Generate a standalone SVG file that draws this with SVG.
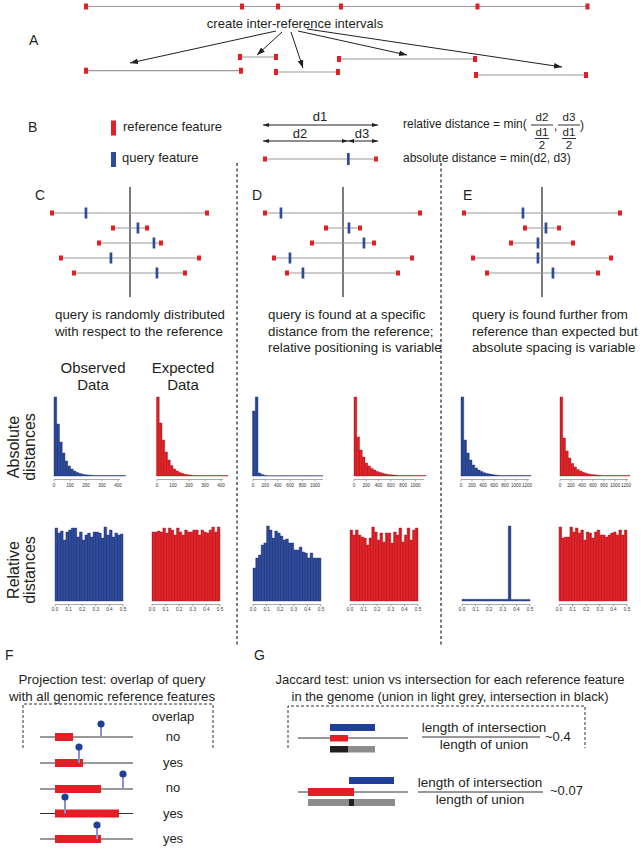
<svg xmlns="http://www.w3.org/2000/svg" width="641" height="849" viewBox="0 0 641 849">
<style>
text{font-family:"Liberation Sans",Arial,sans-serif;fill:#231f20}
.ref{fill:#e31e24}
.qry{fill:#2b4c9b}
.gl{stroke:#9a9a9a;stroke-width:1.2;fill:none}
.vl{stroke:#333;stroke-width:1.3;fill:none}
.ar{stroke:#231f20;stroke-width:1;fill:none}
.ax{stroke:#555;stroke-width:0.5;fill:none}
.tk{font-size:4.6px;text-anchor:middle;fill:#333}
.hb{fill:url(#pb);stroke:#1c2f6b;stroke-width:0.4}
.hr{fill:url(#pr);stroke:#a0151a;stroke-width:0.4}
.dash{stroke:#333;stroke-width:1.3;fill:none;stroke-dasharray:3 2.5}
.dbox{stroke:#333;stroke-width:1;fill:none;stroke-dasharray:3 2}
.pl{stroke:#333;stroke-width:1;fill:none}
.stem{stroke:#8c8fd1;stroke-width:2}
.pin{fill:#203f98}
.lbl{font-size:14px}
.cap{font-size:13.3px}
.fr{font-size:11.5px;text-anchor:middle}
</style>
<defs>
<marker id="ah" viewBox="0 0 10 10" refX="10" refY="5" markerWidth="8" markerHeight="8" markerUnits="userSpaceOnUse" orient="auto-start-reverse"><path d="M0,1.5 L10,5 L0,8.5 Z" fill="#231f20"/></marker>
<marker id="ahs" viewBox="0 0 10 10" refX="10" refY="5" markerWidth="6" markerHeight="6" markerUnits="userSpaceOnUse" orient="auto-start-reverse"><path d="M0,1.5 L10,5 L0,8.5 Z" fill="#231f20"/></marker>
<pattern id="pb" width="2.72" height="10" patternUnits="userSpaceOnUse"><rect width="2.72" height="10" fill="#2f4c9c"/><rect width="0.5" height="10" fill="#1c2f6b"/></pattern>
<pattern id="pr" width="2.72" height="10" patternUnits="userSpaceOnUse"><rect width="2.72" height="10" fill="#e3232a"/><rect width="0.5" height="10" fill="#a0151a"/></pattern>
</defs>
<rect width="641" height="849" fill="#fff"/>

<!-- Panel A -->
<g id="panelA">
<text x="29" y="45" class="lbl">A</text>
<path class="gl" d="M86,6.5 H588"/>
<g class="ref">
<rect x="84" y="3.5" width="4" height="6"/><rect x="240" y="3.5" width="4" height="6"/><rect x="276" y="3.5" width="4" height="6"/><rect x="339" y="3.5" width="4" height="6"/><rect x="475.5" y="3.5" width="4" height="6"/><rect x="585.5" y="3.5" width="4" height="6"/>
</g>
<text x="295" y="28" font-size="13" text-anchor="middle">create inter-reference intervals</text>
<g id="intervals">
<path class="gl" d="M86,70.7 H241 M240,57 H276 M276,72 H338 M339,59 H475 M476,75 H586"/>
<g class="ref">
<rect x="84" y="67.7" width="4" height="6"/><rect x="239" y="67.7" width="4" height="6"/>
<rect x="238" y="54" width="4" height="6"/><rect x="274" y="54" width="4" height="6"/>
<rect x="274" y="69" width="4" height="6"/><rect x="336" y="69" width="4" height="6"/>
<rect x="337" y="56" width="4" height="6"/><rect x="473" y="56" width="4" height="6"/>
<rect x="474" y="72" width="4" height="6"/><rect x="584" y="72" width="4" height="6"/>
</g>
</g>
</g>
<g id="connectorsA">
<path class="ar" marker-end="url(#ah)" d="M276,31 L130,63"/>
<path class="ar" marker-end="url(#ah)" d="M282,32 L257,55"/>
<path class="ar" marker-end="url(#ah)" d="M291,32 L303,68"/>
<path class="ar" marker-end="url(#ah)" d="M298,31 L407,55"/>
<path class="ar" marker-end="url(#ah)" d="M307,29 L562,67"/>
</g>

<!-- Panel B -->
<g id="panelB">
<text x="28" y="132" class="lbl">B</text>
<rect class="ref" x="111" y="120.5" width="5" height="15"/>
<text x="123" y="131" font-size="13">reference feature</text>
<rect class="qry" x="111" y="152" width="5" height="15"/>
<text x="122" y="162" font-size="13">query feature</text>
<g id="distArrows">
<path class="ar" marker-start="url(#ahs)" marker-end="url(#ahs)" d="M263,125 H378"/>
<path class="ar" marker-start="url(#ahs)" marker-end="url(#ahs)" d="M263,141 H348"/>
<path class="ar" marker-start="url(#ahs)" marker-end="url(#ahs)" d="M348,141 H378"/>
</g>
<text x="320" y="121" font-size="13" text-anchor="middle">d1</text>
<text x="300" y="138" font-size="13" text-anchor="middle">d2</text>
<text x="362" y="138" font-size="13" text-anchor="middle">d3</text>
<path class="gl" d="M264,159 H377"/>
<rect class="ref" x="263" y="156.5" width="4" height="5"/>
<rect class="ref" x="374" y="156.5" width="4" height="5"/>
<rect class="qry" x="347" y="153" width="2.7" height="12"/>
<text x="403" y="128" font-size="12">relative distance = min(</text>
<text x="542" y="121" class="fr">d2</text>
<path class="pl" d="M531,125 H553"/>
<text x="542" y="135.5" class="fr">d1</text>
<path class="pl" stroke-width="0.8" d="M535,138.5 H549"/>
<text x="542" y="148.5" class="fr">2</text>
<text x="554" y="130" font-size="12">,</text>
<text x="569" y="121" class="fr">d3</text>
<path class="pl" d="M558,125 H580"/>
<text x="569" y="135.5" class="fr">d1</text>
<path class="pl" stroke-width="0.8" d="M562,138.5 H576"/>
<text x="569" y="148.5" class="fr">2</text>
<text x="580" y="129" font-size="12">)</text>
<text x="403" y="162" font-size="12">absolute distance = min(d2, d3)</text>
</g>

<!-- separators -->
<g id="separators">
<path class="dash" d="M237,163 V647 M441,163 V647"/>
</g>

<!-- Panel C -->
<g id="panelC">
<text x="35" y="200" class="lbl">C</text>
<path class="vl" d="M130,187 V297"/>
<path class="gl" d="M52,213 H207 M113,228 H147 M99,243 H161 M61,258 H199 M74,273 H185"/>
<g class="ref">
<rect x="50" y="210.5" width="4" height="5"/><rect x="205" y="210.5" width="4" height="5"/>
<rect x="111" y="225.5" width="4" height="5"/><rect x="145" y="225.5" width="4" height="5"/>
<rect x="97" y="240.5" width="4" height="5"/><rect x="159" y="240.5" width="4" height="5"/>
<rect x="59" y="255.5" width="4" height="5"/><rect x="197" y="255.5" width="4" height="5"/>
<rect x="72" y="270.5" width="4" height="5"/><rect x="183" y="270.5" width="4" height="5"/>
</g>
<g class="qry">
<rect x="84.6" y="207.5" width="2.7" height="11"/>
<rect x="136.6" y="222.5" width="2.7" height="11"/>
<rect x="152.6" y="237.5" width="2.7" height="11"/>
<rect x="109.6" y="252.5" width="2.7" height="11"/>
<rect x="155.6" y="267.5" width="2.7" height="11"/>
</g>
<text x="55" y="319" class="cap">query is randomly distributed</text>
<text x="55" y="335.5" class="cap">with respect to the reference</text>
</g>

<!-- Panel D -->
<g id="panelD">
<text x="252" y="200" class="lbl">D</text>
<path class="vl" d="M343,187 V297"/>
<path class="gl" d="M265,213 H420 M326,228 H360 M312,243 H374 M274,258 H412 M287,273 H398"/>
<g class="ref">
<rect x="263" y="210.5" width="4" height="5"/><rect x="418" y="210.5" width="4" height="5"/>
<rect x="324" y="225.5" width="4" height="5"/><rect x="358" y="225.5" width="4" height="5"/>
<rect x="310" y="240.5" width="4" height="5"/><rect x="372" y="240.5" width="4" height="5"/>
<rect x="272" y="255.5" width="4" height="5"/><rect x="410" y="255.5" width="4" height="5"/>
<rect x="285" y="270.5" width="4" height="5"/><rect x="396" y="270.5" width="4" height="5"/>
</g>
<g class="qry">
<rect x="279.6" y="207.5" width="2.7" height="11"/>
<rect x="347.6" y="222.5" width="2.7" height="11"/>
<rect x="362.6" y="237.5" width="2.7" height="11"/>
<rect x="288.6" y="252.5" width="2.7" height="11"/>
<rect x="301.6" y="267.5" width="2.7" height="11"/>
</g>
<text x="268" y="319" class="cap">query is found at a specific</text>
<text x="268" y="335.5" class="cap">distance from the reference;</text>
<text x="268" y="352" class="cap">relative positioning is variable</text>
</g>

<!-- Panel E -->
<g id="panelE">
<text x="463" y="200" class="lbl">E</text>
<path class="vl" d="M542,187 V297"/>
<path class="gl" d="M464,213 H620 M525,228 H559 M511,243 H573 M473,258 H611 M487,273 H598"/>
<g class="ref">
<rect x="462" y="210.5" width="4" height="5"/><rect x="618" y="210.5" width="4" height="5"/>
<rect x="523" y="225.5" width="4" height="5"/><rect x="557" y="225.5" width="4" height="5"/>
<rect x="509" y="240.5" width="4" height="5"/><rect x="571" y="240.5" width="4" height="5"/>
<rect x="471" y="255.5" width="4" height="5"/><rect x="609" y="255.5" width="4" height="5"/>
<rect x="485" y="270.5" width="4" height="5"/><rect x="596" y="270.5" width="4" height="5"/>
</g>
<g class="qry">
<rect x="521.6" y="207.5" width="2.7" height="11"/>
<rect x="544.6" y="222.5" width="2.7" height="11"/>
<rect x="536.6" y="237.5" width="2.7" height="11"/>
<rect x="536.6" y="252.5" width="2.7" height="11"/>
<rect x="551.6" y="267.5" width="2.7" height="11"/>
</g>
<text x="472" y="319" class="cap">query is found further from</text>
<text x="472" y="335.5" class="cap">reference than expected but</text>
<text x="472" y="352" class="cap">absolute spacing is variable</text>
</g>

<!-- Histogram labels -->
<g id="histLabels">
<text x="93" y="373" text-anchor="middle" font-size="15">Observed</text>
<text x="93" y="390" text-anchor="middle" font-size="15">Data</text>
<text x="183" y="373" text-anchor="middle" font-size="15">Expected</text>
<text x="183" y="390" text-anchor="middle" font-size="15">Data</text>
<text transform="translate(19,447) rotate(-90)" text-anchor="middle" font-size="16">Absolute</text>
<text transform="translate(35,447) rotate(-90)" text-anchor="middle" font-size="16">distances</text>
<text transform="translate(19,570) rotate(-90)" text-anchor="middle" font-size="16">Relative</text>
<text transform="translate(35,570) rotate(-90)" text-anchor="middle" font-size="16">distances</text>
</g>

<!-- Absolute distance histograms -->
<g id="histAbs">
<path class="hb" d="M54,476 V397 h2.75 V424 h2.75 V442 h2.75 V453 h2.75 V461 h2.75 V466 h2.75 V469 h2.75 V471 h2.75 V472.5 h2.75 V473.5 h2.75 V474.2 h2.75 V474.7 h2.75 V475 h2.75 V475.2 h2.75 V475.4 h2.75 V475.6 H125.5 V476 Z"/>
<path class="ax" d="M54,479.5 H120 M54,479.5 v2 M70,479.5 v2 M86,479.5 v2 M102,479.5 v2 M118,479.5 v2"/>
<text class="tk" x="54" y="487">0</text><text class="tk" x="70" y="487">100</text><text class="tk" x="86" y="487">200</text><text class="tk" x="102" y="487">300</text><text class="tk" x="118" y="487">400</text>

<path class="hr" d="M156.5,476 V397 h2.75 V423 h2.75 V440 h2.75 V452 h2.75 V460 h2.75 V465.5 h2.75 V469 h2.75 V471 h2.75 V472.5 h2.75 V473.5 h2.75 V474.3 h2.75 V474.8 h2.75 V475.1 h2.75 V475.4 h2.75 V475.6 H228 V476 Z"/>
<path class="ax" d="M157,479.5 H223 M157,479.5 v2 M173,479.5 v2 M189,479.5 v2 M205,479.5 v2 M221,479.5 v2"/>
<text class="tk" x="157" y="487">0</text><text class="tk" x="173" y="487">100</text><text class="tk" x="189" y="487">200</text><text class="tk" x="205" y="487">300</text><text class="tk" x="221" y="487">400</text>

<path class="hb" d="M252.5,476 V411 h2.75 V397 h2.75 V473 h2.75 V474.5 h2.75 V475.3 h2.75 V475.7 H323 V476 Z"/>
<path class="ax" d="M253,479.5 H323 M253,479.5 v2 M265.4,479.5 v2 M277.8,479.5 v2 M290.2,479.5 v2 M302.6,479.5 v2 M315,479.5 v2"/>
<text class="tk" x="253" y="487">0</text><text class="tk" x="265.4" y="487">200</text><text class="tk" x="277.8" y="487">400</text><text class="tk" x="290.2" y="487">600</text><text class="tk" x="302.6" y="487">800</text><text class="tk" x="315" y="487">1000</text>

<path class="hr" d="M354,476 V397 h2.75 V437 h2.75 V450 h2.75 V457 h2.75 V463 h2.75 V466 h2.75 V468.5 h2.75 V470 h2.75 V471.5 h2.75 V472.5 h2.75 V473.3 h2.75 V473.9 h2.75 V474.4 h2.75 V474.8 h2.75 V475.1 h2.75 V475.3 h2.75 V475.5 h2.75 V475.6 H426 V476 Z"/>
<path class="ax" d="M354,479.5 H424 M354,479.5 v2 M366.3,479.5 v2 M378.6,479.5 v2 M390.9,479.5 v2 M403.2,479.5 v2 M415.5,479.5 v2"/>
<text class="tk" x="354" y="487">0</text><text class="tk" x="366.3" y="487">200</text><text class="tk" x="378.6" y="487">400</text><text class="tk" x="390.9" y="487">600</text><text class="tk" x="403.2" y="487">800</text><text class="tk" x="415.5" y="487">1000</text>

<path class="hb" d="M461,476 V397 h2.75 V440 h2.75 V453 h2.75 V460 h2.75 V465 h2.75 V468 h2.75 V470 h2.75 V471.5 h2.75 V472.7 h2.75 V473.5 h2.75 V474.1 h2.75 V474.6 h2.75 V475 h2.75 V475.3 h2.75 V475.5 h2.75 V475.6 H531 V476 Z"/>
<path class="ax" d="M461,479.5 H529 M461,479.5 v2 M472,479.5 v2 M483,479.5 v2 M494,479.5 v2 M505,479.5 v2 M516,479.5 v2 M527,479.5 v2"/>
<text class="tk" x="461" y="487">0</text><text class="tk" x="472" y="487">200</text><text class="tk" x="483" y="487">400</text><text class="tk" x="494" y="487">600</text><text class="tk" x="505" y="487">800</text><text class="tk" x="516" y="487">1000</text><text class="tk" x="527" y="487">1200</text>

<path class="hr" d="M560,476 V397 h2.75 V438 h2.75 V451 h2.75 V458 h2.75 V463.5 h2.75 V467 h2.75 V469.5 h2.75 V471 h2.75 V472.3 h2.75 V473.2 h2.75 V473.9 h2.75 V474.4 h2.75 V474.8 h2.75 V475.1 h2.75 V475.3 h2.75 V475.5 h2.75 V475.6 H630 V476 Z"/>
<path class="ax" d="M560,479.5 H628 M560,479.5 v2 M571,479.5 v2 M582,479.5 v2 M593,479.5 v2 M604,479.5 v2 M615,479.5 v2 M626,479.5 v2"/>
<text class="tk" x="560" y="487">0</text><text class="tk" x="571" y="487">200</text><text class="tk" x="582" y="487">400</text><text class="tk" x="593" y="487">600</text><text class="tk" x="604" y="487">800</text><text class="tk" x="615" y="487">1000</text><text class="tk" x="626" y="487">1200</text>
</g>

<!-- Relative distance histograms -->
<g id="histRel">
<path class="hb" d="M55,601 V528 h2.72 V533 h2.72 V531 h2.72 V540 h2.72 V532 h2.72 V530 h2.72 V528 h2.72 V528 h2.72 V537 h2.72 V532 h2.72 V540 h2.72 V535 h2.72 V533 h2.72 V537 h2.72 V532 h2.72 V532 h2.72 V533 h2.72 V538 h2.72 V527 h2.72 V535 h2.72 V530 h2.72 V537 h2.72 V533 h2.72 V535 h2.72 V534 h2.72 V601 Z"/>
<path class="ax" d="M55,604.5 H123 M55,604.5 v2 M68.6,604.5 v2 M82.2,604.5 v2 M95.8,604.5 v2 M109.4,604.5 v2 M123,604.5 v2"/>
<text class="tk" x="55" y="611">0.0</text><text class="tk" x="68.6" y="611">0.1</text><text class="tk" x="82.2" y="611">0.2</text><text class="tk" x="95.8" y="611">0.3</text><text class="tk" x="109.4" y="611">0.4</text><text class="tk" x="123" y="611">0.5</text>

<path class="hr" d="M152,601 V532 h2.72 V532 h2.72 V531 h2.72 V532 h2.72 V528 h2.72 V533 h2.72 V528 h2.72 V530 h2.72 V535 h2.72 V528 h2.72 V532 h2.72 V535 h2.72 V530 h2.72 V532 h2.72 V532 h2.72 V530 h2.72 V530 h2.72 V535 h2.72 V530 h2.72 V532 h2.72 V533 h2.72 V530 h2.72 V527 h2.72 V532 h2.72 V527 h2.72 V601 Z"/>
<path class="ax" d="M152,604.5 H220 M152,604.5 v2 M165.6,604.5 v2 M179.2,604.5 v2 M192.8,604.5 v2 M206.4,604.5 v2 M220,604.5 v2"/>
<text class="tk" x="152" y="611">0.0</text><text class="tk" x="165.6" y="611">0.1</text><text class="tk" x="179.2" y="611">0.2</text><text class="tk" x="192.8" y="611">0.3</text><text class="tk" x="206.4" y="611">0.4</text><text class="tk" x="220" y="611">0.5</text>

<path class="hb" d="M253,601 V568 h2.72 V558 h2.72 V555 h2.72 V545 h2.72 V543 h2.72 V526 h2.72 V530 h2.72 V538 h2.72 V531 h2.72 V533 h2.72 V536 h2.72 V540 h2.72 V539 h2.72 V543 h2.72 V543 h2.72 V550 h2.72 V550 h2.72 V547 h2.72 V552 h2.72 V553 h2.72 V558 h2.72 V553 h2.72 V558 h2.72 V558 h2.72 V558 h2.72 V601 Z"/>
<path class="ax" d="M253,604.5 H321 M253,604.5 v2 M266.6,604.5 v2 M280.2,604.5 v2 M293.8,604.5 v2 M307.4,604.5 v2 M321,604.5 v2"/>
<text class="tk" x="253" y="611">0.0</text><text class="tk" x="266.6" y="611">0.1</text><text class="tk" x="280.2" y="611">0.2</text><text class="tk" x="293.8" y="611">0.3</text><text class="tk" x="307.4" y="611">0.4</text><text class="tk" x="321" y="611">0.5</text>

<path class="hr" d="M350,601 V530 h2.72 V535 h2.72 V530 h2.72 V535 h2.72 V537 h2.72 V538 h2.72 V545 h2.72 V538 h2.72 V527 h2.72 V532 h2.72 V540 h2.72 V533 h2.72 V542 h2.72 V533 h2.72 V533 h2.72 V543 h2.72 V532 h2.72 V535 h2.72 V528 h2.72 V542 h2.72 V535 h2.72 V528 h2.72 V540 h2.72 V530 h2.72 V528 h2.72 V601 Z"/>
<path class="ax" d="M350,604.5 H418 M350,604.5 v2 M363.6,604.5 v2 M377.2,604.5 v2 M390.8,604.5 v2 M404.4,604.5 v2 M418,604.5 v2"/>
<text class="tk" x="350" y="611">0.0</text><text class="tk" x="363.6" y="611">0.1</text><text class="tk" x="377.2" y="611">0.2</text><text class="tk" x="390.8" y="611">0.3</text><text class="tk" x="404.4" y="611">0.4</text><text class="tk" x="418" y="611">0.5</text>

<path class="hb" d="M462,601 V599.3 h46.24 V526 h2.72 V599.4 H530 V601 Z"/>
<path class="ax" d="M462,604.5 H530 M462,604.5 v2 M475.6,604.5 v2 M489.2,604.5 v2 M502.8,604.5 v2 M516.4,604.5 v2 M530,604.5 v2"/>
<text class="tk" x="462" y="611">0.0</text><text class="tk" x="475.6" y="611">0.1</text><text class="tk" x="489.2" y="611">0.2</text><text class="tk" x="502.8" y="611">0.3</text><text class="tk" x="516.4" y="611">0.4</text><text class="tk" x="530" y="611">0.5</text>

<path class="hr" d="M559,601 V527 h2.72 V538 h2.72 V537 h2.72 V537 h2.72 V527 h2.72 V532 h2.72 V528 h2.72 V533 h2.72 V530 h2.72 V540 h2.72 V532 h2.72 V533 h2.72 V538 h2.72 V532 h2.72 V530 h2.72 V535 h2.72 V535 h2.72 V537 h2.72 V535 h2.72 V533 h2.72 V532 h2.72 V535 h2.72 V530 h2.72 V535 h2.72 V530 h2.72 V601 Z"/>
<path class="ax" d="M559,604.5 H627 M559,604.5 v2 M572.6,604.5 v2 M586.2,604.5 v2 M599.8,604.5 v2 M613.4,604.5 v2 M627,604.5 v2"/>
<text class="tk" x="559" y="611">0.0</text><text class="tk" x="572.6" y="611">0.1</text><text class="tk" x="586.2" y="611">0.2</text><text class="tk" x="599.8" y="611">0.3</text><text class="tk" x="613.4" y="611">0.4</text><text class="tk" x="627" y="611">0.5</text>
</g>

<!-- Panel F -->
<g id="panelF">
<text x="5" y="660" class="lbl">F</text>
<text x="112" y="684" font-size="13.3" text-anchor="middle">Projection test: overlap of query</text>
<text x="112" y="701" font-size="13.3" text-anchor="middle">with all genomic reference features</text>
<path class="dbox" d="M23,748 V704 H213 V748"/>
<text x="173" y="721" font-size="13" text-anchor="middle">overlap</text>
<path class="pl" d="M40,737 H133 M40,763 H133 M40,789 H133 M40,813.5 H133 M40,839 H133"/>
<g class="ref">
<rect x="55" y="733" width="18" height="8"/>
<rect x="55" y="759" width="28" height="8"/>
<rect x="55" y="785" width="46" height="8"/>
<rect x="55" y="809.5" width="64" height="8"/>
<rect x="55" y="835" width="46" height="8"/>
</g>
<path class="stem" d="M101,724 V737 M79,747 V763 M123,774 V789 M65,797 V813.5 M97,825 V839"/>
<g class="pin">
<circle cx="101" cy="724" r="3.6"/>
<circle cx="79" cy="747" r="3.6"/>
<circle cx="123" cy="774" r="3.6"/>
<circle cx="65" cy="797" r="3.6"/>
<circle cx="97" cy="825" r="3.6"/>
</g>
<text x="173" y="741" font-size="13" text-anchor="middle">no</text>
<text x="173" y="767" font-size="13" text-anchor="middle">yes</text>
<text x="173" y="792" font-size="13" text-anchor="middle">no</text>
<text x="173" y="818" font-size="13" text-anchor="middle">yes</text>
<text x="173" y="843" font-size="13" text-anchor="middle">yes</text>
</g>

<!-- Panel G -->
<g id="panelG">
<text x="254" y="660" class="lbl">G</text>
<text x="450" y="684" font-size="13" text-anchor="middle">Jaccard test: union vs intersection for each reference feature</text>
<text x="450" y="701" font-size="13" text-anchor="middle">in the genome (union in light grey, intersection in black)</text>
<path class="dbox" d="M288,748 V706 H585 V748"/>
<rect x="330" y="724" width="45" height="7" fill="#1f3f98"/>
<path class="pl" d="M298,738 H408"/>
<rect class="ref" x="330" y="735" width="18" height="6.5"/>
<rect x="348" y="746" width="27" height="6.5" fill="#8c8c8c"/>
<rect x="330" y="746" width="18" height="6.5" fill="#231f20"/>
<text x="484" y="732" font-size="13.5" text-anchor="middle">length of intersection</text>
<path class="pl" d="M422,737 H540"/>
<text x="484" y="749" font-size="13.5" text-anchor="middle">length of union</text>
<text x="545" y="741" font-size="13">~0.4</text>

<rect x="349" y="777" width="45" height="7" fill="#1f3f98"/>
<path class="pl" d="M298,792 H408"/>
<rect class="ref" x="308" y="788" width="46" height="8"/>
<rect x="308" y="799" width="87" height="7" fill="#8c8c8c"/>
<rect x="349" y="799" width="5" height="7" fill="#231f20"/>
<text x="480" y="787" font-size="13.5" text-anchor="middle">length of intersection</text>
<path class="pl" d="M418,792 H543"/>
<text x="480" y="804" font-size="13.5" text-anchor="middle">length of union</text>
<text x="550" y="795" font-size="13">~0.07</text>
</g>
</svg>
